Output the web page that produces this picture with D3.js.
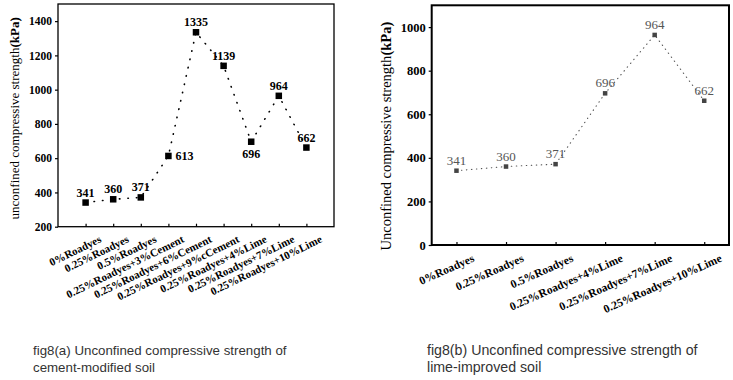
<!DOCTYPE html>
<html lang="en">
<head>
    <meta charset="UTF-8">
    <script src="https://d3js.org/d3.v7.min.js"></script>
    <style>
        body { margin: 0; background: #fff; }
        svg { display: block; }
        .caption { font-family: "Liberation Sans", Arial, sans-serif; fill: #333; }
    </style>
</head>
<body>
    <svg id="chart" width="733" height="380"></svg>

    <script>
        // fig8(a) cement-modified soil
        const catsA = ["0%Roadyes", "0.25%Roadyes", "0.5%Roadyes", "0.25%Roadyes+3%Cement",
            "0.25%Roadyes+6%Cement", "0.25%Roadyes+9%cCement", "0.25%Roadyes+4%Lime",
            "0.25%Roadyes+7%Lime", "0.25%Roadyes+10%Lime"];
        const valsA = [341, 360, 371, 613, 1335, 1139, 696, 964, 662];
        const ticksA = [200, 400, 600, 800, 1000, 1200, 1400];

        // fig8(b) lime-improved soil
        const catsB = ["0%Roadyes", "0.25%Roadyes", "0.5%Roadyes", "0.25%Roadyes+4%Lime",
            "0.25%Roadyes+7%Lime", "0.25%Roadyes+10%Lime"];
        const valsB = [341, 360, 371, 696, 964, 662];
        const ticksB = [0, 200, 400, 600, 800, 1000];

        const SERIF = "'Liberation Serif', 'Times New Roman', serif";
        const svg = d3.select("#chart");

        function drawPanel(o) {
            const g = svg.append("g");

            const x = d3.scalePoint().domain(o.cats).range([o.left, o.right]).padding(o.pad);
            const y = d3.scaleLinear().domain(o.domain).range([o.bottom, o.top]);

            const data = o.cats.map((c, i) => ({ c, v: o.vals[i], pos: o.labelPos[i] }));

            // frame
            g.append("rect")
                .attr("x", o.left).attr("y", o.top)
                .attr("width", o.right - o.left).attr("height", o.bottom - o.top)
                .attr("fill", "none").attr("stroke", "#000").attr("stroke-width", o.frameW);

            // y axis, ticks outside
            const yAx = g.append("g")
                .attr("transform", `translate(${o.left},0)`)
                .call(d3.axisLeft(y).tickValues(o.ticks).tickFormat(d3.format("d")).tickSize(3).tickPadding(3));
            yAx.select(".domain").remove();
            yAx.selectAll("line").attr("stroke-width", 1.2);
            yAx.selectAll("text")
                .style("font-family", SERIF)
                .style("font-size", o.yTickSize + "px")
                .style("font-weight", "bold")
                .attr("fill", "#000");

            // x axis, ticks inside
            const xAx = g.append("g")
                .attr("transform", `translate(0,${o.bottom})`)
                .call(d3.axisBottom(x).tickSize(-3).tickSizeOuter(0));
            xAx.select(".domain").remove();
            xAx.selectAll("line").attr("stroke-width", 1.2);
            xAx.selectAll("text")
                .style("font-family", SERIF)
                .style("font-size", o.xTickSize + "px")
                .style("font-weight", "bold")
                .attr("fill", "#000")
                .attr("text-anchor", "end")
                .attr("y", 0).attr("dy", 0)
                .attr("transform", `translate(${o.xOff[0]},${o.xOff[1]}) rotate(${o.angle})`);

            // dotted line
            g.append("path")
                .datum(data)
                .attr("fill", "none")
                .attr("stroke", o.lineColor)
                .attr("stroke-width", o.lineW)
                .attr("stroke-linecap", "round")
                .attr("stroke-dasharray", o.dash)
                .attr("d", d3.line().x(d => x(d.c)).y(d => y(d.v)));

            // markers
            g.selectAll(".mk")
                .data(data)
                .enter()
                .append("rect")
                .attr("x", d => x(d.c) - o.mk / 2)
                .attr("y", d => y(d.v) - o.mk / 2)
                .attr("width", o.mk).attr("height", o.mk)
                .attr("fill", o.mkColor);

            // value labels
            g.selectAll(".lbl")
                .data(data)
                .enter()
                .append("text")
                .style("font-family", SERIF)
                .style("font-size", o.lblSize + "px")
                .style("font-weight", o.lblWeight)
                .attr("fill", o.lblColor)
                .attr("text-anchor", d => d.pos === "right" ? "start" : "middle")
                .attr("x", d => x(d.c) + (d.pos === "right" ? 7 : 0))
                .attr("y", d => y(d.v) + (d.pos === "below" ? 16 : d.pos === "right" ? 4 : -6))
                .text(d => d.v);

            // y title
            const t = g.append("text")
                .style("font-family", SERIF)
                .style("font-size", o.titleSize + "px")
                .attr("fill", "#000")
                .attr("text-anchor", "middle")
                .attr("transform", `translate(${o.titleX},${(o.top + o.bottom) / 2 + o.titleDy}) rotate(-90)`);
            t.append("tspan").text(o.title);
            t.append("tspan").style("font-weight", "bold").text("(kPa)");

            // caption
            o.caption.forEach((line, i) => {
                svg.append("text")
                    .attr("class", "caption")
                    .style("font-size", o.capSize + "px")
                    .attr("x", o.capX)
                    .attr("y", 355 + i * 17)
                    .text(line);
            });
        }

        drawPanel({
            cats: catsA, vals: valsA, ticks: ticksA, domain: [200, 1500],
            left: 58, right: 334, top: 4, bottom: 226.7, pad: 1, frameW: 1.3,
            yTickSize: 11.5, xTickSize: 11, angle: -26, xOff: [16, 15],
            lineColor: "#000", lineW: 1.6, dash: "0.5,8", mk: 6.5, mkColor: "#000",
            lblSize: 12, lblWeight: "bold", lblColor: "#000",
            labelPos: ["above", "above", "above", "right", "above", "above", "below", "above", "above"],
            title: "unconfined compressive strength", titleSize: 13, titleX: 19, titleDy: 3,
            caption: ["fig8(a) Unconfined compressive strength of", "cement-modified soil"],
            capSize: 13.3, capX: 33
        });

        drawPanel({
            cats: catsB, vals: valsB, ticks: ticksB, domain: [0, 1100],
            left: 431.7, right: 729, top: 5.3, bottom: 245, pad: 0.5, frameW: 2,
            yTickSize: 12.5, xTickSize: 11.5, angle: -24, xOff: [18, 16],
            lineColor: "#555", lineW: 1.1, dash: "0.5,4.5", mk: 4.5, mkColor: "#444",
            lblSize: 13, lblWeight: "normal", lblColor: "#555",
            labelPos: ["above", "above", "above", "above", "above", "above"],
            title: "Unconfined compressive strength", titleSize: 14.5, titleX: 391, titleDy: 11,
            caption: ["fig8(b) Unconfined compressive strength of", "lime-improved soil"],
            capSize: 14.2, capX: 427
        });
    </script>
</body>
</html>
